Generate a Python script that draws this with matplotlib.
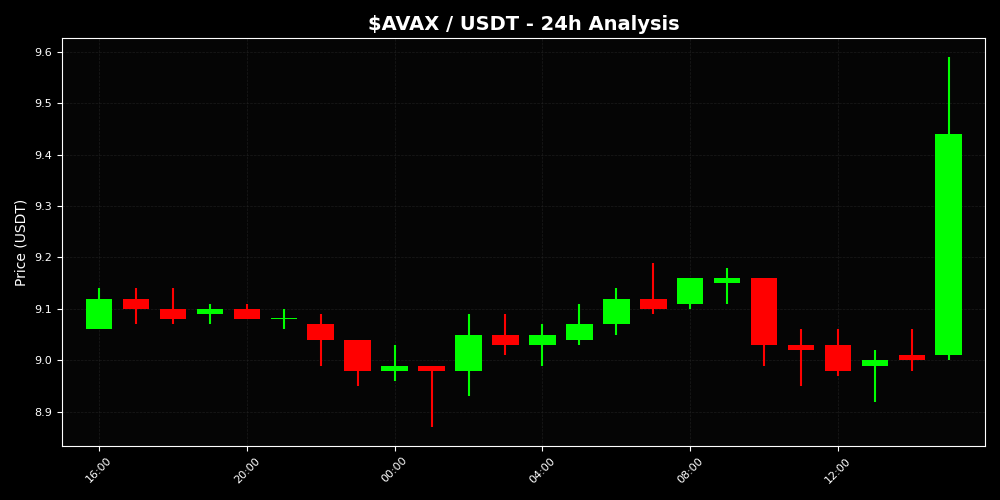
#-------------------------------------------------------------------------------
# CANDLESTICK CHART - AVAX / USDT 24h
#-------------------------------------------------------------------------------
import numpy as np
import pandas as pd
import matplotlib
matplotlib.use("Agg")
from matplotlib import pyplot as plt
import matplotlib.dates as mdates

#hourly candles (open, high, low, close)
times = pd.date_range("2024-01-01 16:00", periods=24, freq="h")
opens = [9.06, 9.12, 9.10, 9.09, 9.10, 9.08, 9.07, 9.04, 8.98, 8.99, 8.98, 9.05,
         9.03, 9.04, 9.07, 9.12, 9.11, 9.15, 9.16, 9.03, 9.03, 8.99, 9.01, 9.01]
highs = [9.14, 9.14, 9.14, 9.11, 9.11, 9.10, 9.09, 9.04, 9.03, 8.99, 9.09, 9.09,
         9.07, 9.11, 9.14, 9.19, 9.16, 9.18, 9.16, 9.06, 9.06, 9.02, 9.06, 9.59]
lows = [9.06, 9.07, 9.07, 9.07, 9.08, 9.06, 8.99, 8.95, 8.96, 8.87, 8.93, 9.01,
        8.99, 9.03, 9.05, 9.09, 9.10, 9.11, 8.99, 8.95, 8.97, 8.92, 8.98, 9.00]
closes = [9.12, 9.10, 9.08, 9.10, 9.08, 9.08, 9.04, 8.98, 8.99, 8.98, 9.05, 9.03,
          9.05, 9.07, 9.12, 9.10, 9.16, 9.16, 9.03, 9.02, 8.98, 9.00, 9.00, 9.44]

x = mdates.date2num(times)
o = np.array(opens)
h = np.array(highs)
l = np.array(lows)
c = np.array(closes)
colors = np.where(c >= o, "#00ff00", "#ff0000")

#figure
plt.style.use("dark_background")
fig, ax = plt.subplots(figsize=(10, 5), dpi=100)
fig.patch.set_facecolor("black")
ax.set_facecolor("#050505")

#wicks and bodies
ax.vlines(x, l, h, colors=colors, linewidth=1.5, zorder=2)
body_bottom = np.minimum(o, c)
body_height = np.maximum(np.abs(c - o), 0.0015)
ax.bar(x, body_height, bottom=body_bottom, width=0.03, color=colors, zorder=3)

#x range stops just before the next 16:00 tick
ax.set_xlim(x[0] - 1 / 24, x[-1] + 0.98 / 24)
ax.xaxis.set_major_locator(mdates.HourLocator(byhour=range(0, 24, 4)))
ax.xaxis.set_major_formatter(mdates.DateFormatter("%H:%M"))
plt.setp(ax.get_xticklabels(), rotation=45, fontsize=8)
plt.setp(ax.get_yticklabels(), fontsize=8)

ax.grid(True, color="#2a2a2a", linestyle="--", linewidth=0.5, alpha=0.6)
for s in ax.spines.values():
    s.set_color("white")

ax.set_title("$AVAX / USDT - 24h Analysis", fontsize=14, fontweight="bold", color="white")
ax.set_ylabel("Price (USDT)", fontsize=10, color="white")

plt.tight_layout()
plt.savefig("out.png", dpi=100, facecolor=fig.get_facecolor())
